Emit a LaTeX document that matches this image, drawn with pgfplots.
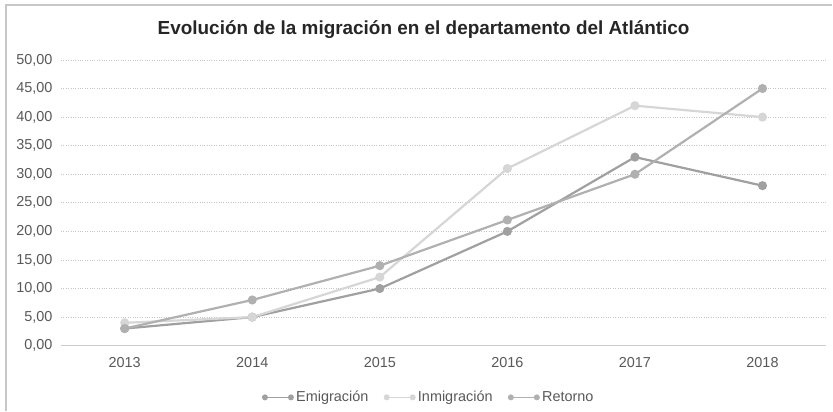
\documentclass[border=0pt]{standalone}
\usepackage{pgfplots}
\pgfplotsset{compat=1.18}
\usepackage{fontspec}
\setmainfont{Liberation Sans}
\definecolor{emi}{HTML}{A0A0A0}
\definecolor{inm}{HTML}{D6D6D6}
\definecolor{ret}{HTML}{B0B0B0}
\definecolor{txt}{HTML}{595959}
\begin{document}
\begin{tikzpicture}
\fill[white] (0bp,0bp) rectangle (833bp,411bp);
\draw[black!22, line width=1.5bp] (6bp,0bp) -- (6bp,406bp) -- (833bp,406bp);
\node[font=\bfseries\fontsize{19}{22}\selectfont, text=black!85] at (424bp,381bp) {Evolución de la migración en el departamento del Atlántico};
\begin{axis}[
  at={(61bp,65bp)}, anchor=south west,
  width=766bp, height=286bp, scale only axis,
  xmin=2012.5, xmax=2018.5, ymin=0, ymax=50,
  xtick={2013,2014,2015,2016,2017,2018},
  xticklabels={2013,2014,2015,2016,2017,2018},
  ytick={0,5,...,50},
  yticklabel style={xshift=-5bp, /pgf/number format/.cd, fixed, fixed zerofill, precision=2, use comma, assume math mode=true},
  ticklabel style={font=\fontsize{14.5}{16}\selectfont, text=txt},
  xticklabel style={yshift=-8bp},
  major tick length=0pt,
  axis line style={draw=none},
  ymajorgrids, grid style={dotted, black!22, line width=0.8bp},
  extra description/.code={\draw[black!20, line width=1bp] (axis cs:2012.5,0) -- (axis cs:2018.5,0);},
  legend style={at={(0.481,-0.145)}, anchor=north, draw=none, legend columns=3, font=\fontsize{14.5}{16}\selectfont, text=txt, /tikz/every even column/.append style={column sep=14bp}, /tikz/every odd column/.append style={column sep=1bp}},
  legend image code/.code={\draw[#1, line width=1.3bp, mark size=2.3bp] plot coordinates {(0bp,0bp) (26bp,0bp)};},
  legend cell align=left,
  every axis plot/.append style={line width=2.2bp, mark=*, mark size=3.4bp},
  clip=false,
]
\addplot[color=emi, mark options={fill=emi}] coordinates {(2013,3) (2014,5) (2015,10) (2016,20) (2017,33) (2018,28)};
\addlegendentry{Emigración}
\addplot[color=inm, mark options={fill=inm}] coordinates {(2013,4) (2014,5) (2015,12) (2016,31) (2017,42) (2018,40)};
\addlegendentry{Inmigración}
\addplot[color=ret, mark options={fill=ret}] coordinates {(2013,3) (2014,8) (2015,14) (2016,22) (2017,30) (2018,45)};
\addlegendentry{Retorno}
\end{axis}
\end{tikzpicture}
\end{document}
